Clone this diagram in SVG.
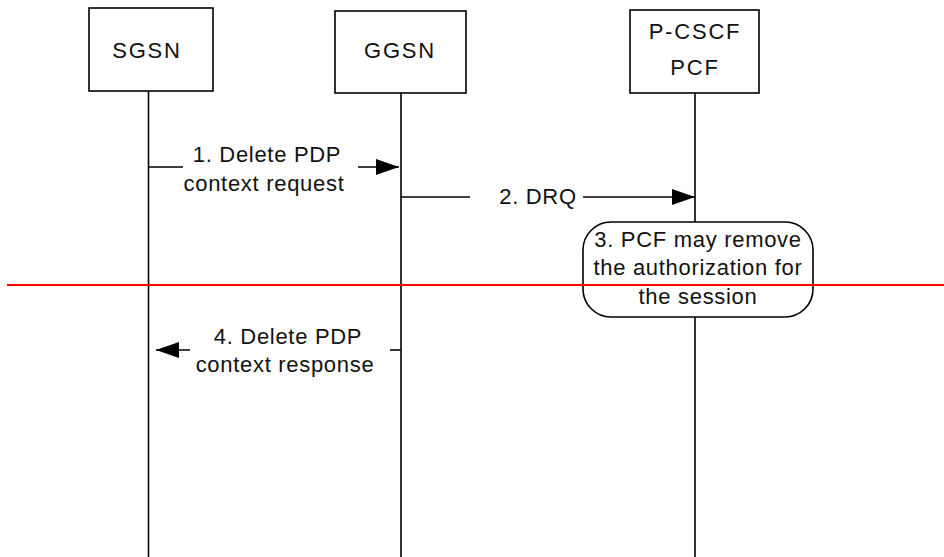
<svg xmlns="http://www.w3.org/2000/svg" width="944" height="557" viewBox="0 0 944 557">
  <style>
    .box { fill: #ffffff; stroke: #000000; stroke-width: 1.6; }
    .life { stroke: #000000; stroke-width: 1.6; fill: none; }
    .msg { stroke: #000000; stroke-width: 1.6; fill: none; }
    .node-text { font-family: "Liberation Sans", Arial, sans-serif; font-size: 22px; letter-spacing: 1.8px; fill: #111111; text-anchor: middle; }
    .label { font-family: "Liberation Sans", Arial, sans-serif; font-size: 22px; letter-spacing: 0.7px; fill: #111111; text-anchor: middle; }
    .divider { stroke: #ff0000; stroke-width: 2; }
  </style>
  <defs>
    <marker id="arrow" markerUnits="userSpaceOnUse" markerWidth="23" markerHeight="16" refX="23" refY="8" orient="auto">
      <path d="M0,0 L23,8 L0,16 Z" fill="#000000"/>
    </marker>
  </defs>

  <rect width="944" height="557" fill="#ffffff"/>

  <!-- lifelines -->
  <g id="lifelines">
    <line class="life" x1="148.5" y1="91" x2="148.5" y2="557"/>
    <line class="life" x1="401" y1="93" x2="401" y2="557"/>
    <line class="life" x1="695" y1="93" x2="695" y2="222"/>
    <line class="life" x1="695" y1="317" x2="695" y2="557"/>
  </g>

  <g id="sgsn">
    <rect class="box" x="89" y="8" width="124" height="83"/>
    <text class="node-text" x="147" y="58">SGSN</text>
  </g>

  <g id="ggsn">
    <rect class="box" x="335" y="11" width="131" height="82"/>
    <text class="node-text" x="400" y="58">GGSN</text>
  </g>

  <g id="pcscf">
    <rect class="box" x="630" y="10" width="129" height="83"/>
    <text class="node-text" x="695" y="39">P-CSCF</text>
    <text class="node-text" x="695" y="75">PCF</text>
  </g>

  <g id="step3">
    <rect class="box" x="583" y="222" width="230" height="95" rx="28" ry="28"/>
    <text class="label" x="698" y="246.5">3. PCF may remove</text>
    <text class="label" x="698" y="275">the authorization for</text>
    <text class="label" x="698" y="303.5">the session</text>
  </g>

  <!-- messages -->
  <g id="connectors">
    <line class="msg" x1="148.5" y1="167" x2="183" y2="167"/>
    <line class="msg" x1="358" y1="167" x2="399" y2="167" marker-end="url(#arrow)"/>
    <line class="msg" x1="401" y1="197" x2="470" y2="197"/>
    <line class="msg" x1="583" y1="197" x2="695" y2="197" marker-end="url(#arrow)"/>
    <line class="msg" x1="190" y1="350" x2="156" y2="350" marker-end="url(#arrow)"/>
    <line class="msg" x1="390" y1="350" x2="401" y2="350"/>
  </g>

  <g id="labels">
    <text class="label" x="267" y="162">1. Delete PDP</text>
    <text class="label" x="264" y="191">context request</text>
    <text class="label" x="538" y="204">2. DRQ</text>
    <text class="label" x="288" y="344">4. Delete PDP</text>
    <text class="label" x="285" y="372">context response</text>
  </g>

  <line class="divider" x1="7" y1="285" x2="944" y2="285"/>
</svg>
